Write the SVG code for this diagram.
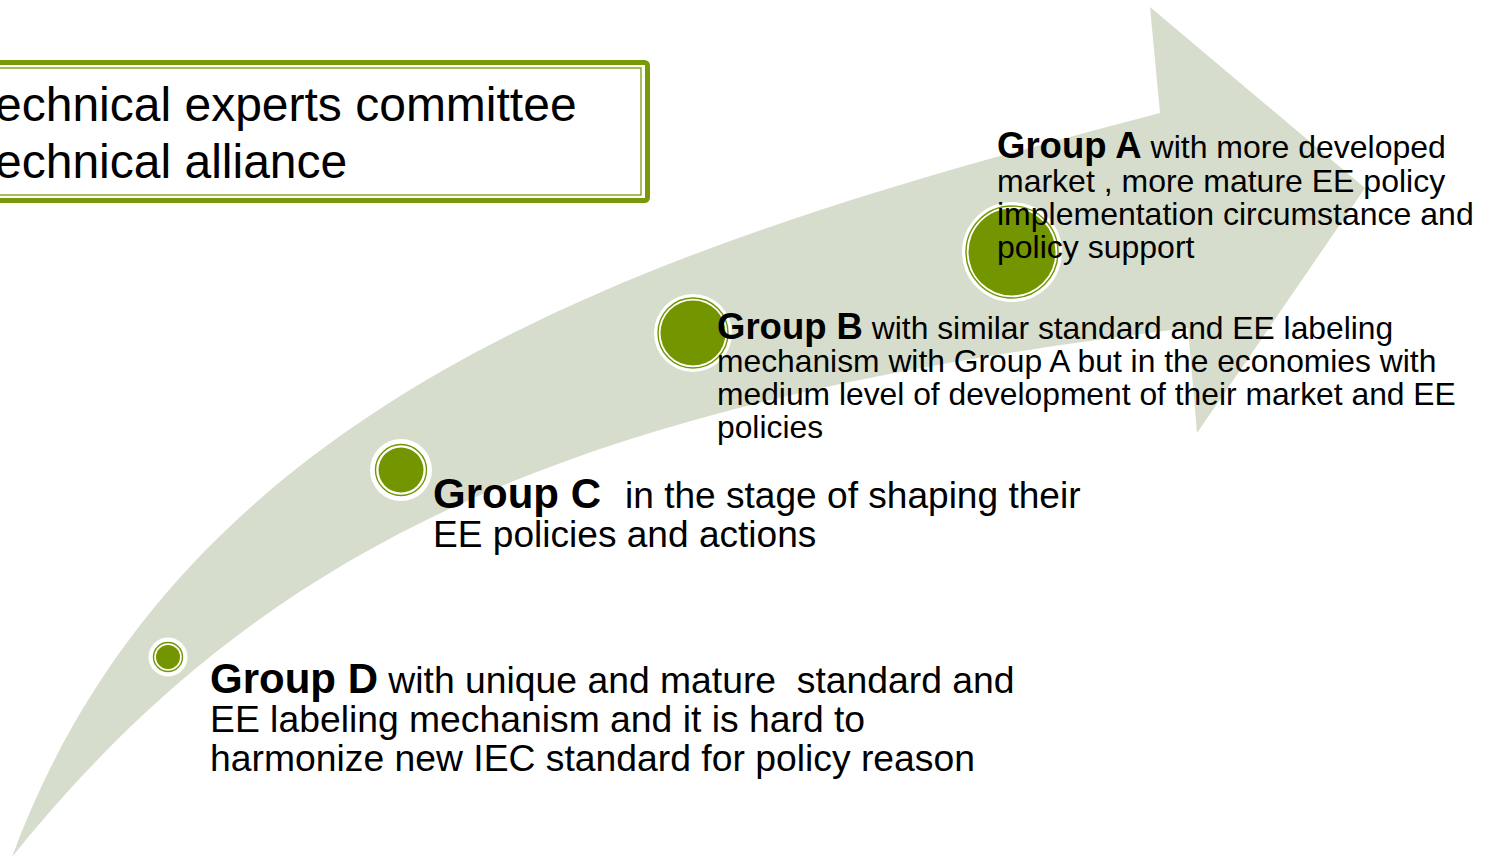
<svg xmlns="http://www.w3.org/2000/svg" width="1490" height="857" viewBox="0 0 1490 857">
  <style>
    .reg { font-family: "Liberation Sans", Arial, sans-serif; fill: #000; }
    .bold { font-family: "Liberation Sans", Arial, sans-serif; font-weight: bold; fill: #000; }
    .halo { fill: #fff; }
    .ring { fill: none; stroke: #739500; stroke-width: 1.4; }
    .dot { fill: #739500; }
    .frame-outer { fill: #fff; stroke: #789a08; stroke-width: 5; }
    .frame-inner { fill: none; stroke: #789a08; stroke-width: 1.3; }
  </style>

  <rect x="0" y="0" width="1490" height="857" fill="#fff"/>

  <!-- curved progress arrow in the background -->
  <g id="progress-arrow">
    <path fill="#d7ddcc" d="M12,857 C186,385 676,240 1160,113 L1150,7 L1365,188 L1197,433 L1188,328 C592,401 275,530 12,857 Z"/>
  </g>

  <!-- heading box, running off the left edge -->
  <g id="heading">
    <rect class="frame-outer" x="-20" y="62.5" width="667.5" height="138" rx="3"/>
    <rect class="frame-inner" x="-20" y="68" width="661" height="127"/>
    <text class="reg" font-size="48" x="-29" y="121">Technical experts committee</text>
    <text class="reg" font-size="48" x="-29" y="178">Technical alliance</text>
  </g>

  <!-- connectors: none, the groups sit on the arrow -->
  <g id="connectors"></g>

  <g id="group-d">
    <circle class="halo" cx="168" cy="657" r="19.5"/>
    <circle class="ring" cx="168" cy="657" r="14.5"/>
    <circle class="dot" cx="168" cy="657" r="12"/>
    <text class="reg" font-size="37.3" x="210" y="693" xml:space="preserve"><tspan class="bold" font-size="42">Group D</tspan> with unique and mature  standard and</text>
    <text class="reg" font-size="37.3" x="210" y="732">EE labeling mechanism and it is hard to</text>
    <text class="reg" font-size="37.3" x="210" y="771">harmonize new IEC standard for policy reason</text>
  </g>

  <g id="group-c">
    <circle class="halo" cx="401" cy="470" r="31"/>
    <circle class="ring" cx="401" cy="470" r="25.5"/>
    <circle class="dot" cx="401" cy="470" r="22.5"/>
    <text class="bold" font-size="42" x="433" y="508">Group C</text>
    <text class="reg" font-size="37.1" x="625" y="508">in the stage of shaping their</text>
    <text class="reg" font-size="37.1" x="433" y="547">EE policies and actions</text>
  </g>

  <g id="group-b">
    <circle class="halo" cx="693" cy="333" r="39"/>
    <circle class="ring" cx="693" cy="333" r="35"/>
    <circle class="dot" cx="693" cy="333" r="32.5"/>
    <text class="reg" font-size="31.8" x="717" y="339"><tspan class="bold" font-size="36.5">Group B</tspan> with similar standard and EE labeling</text>
    <text class="reg" font-size="31.8" x="717" y="372">mechanism with Group A but in the economies with</text>
    <text class="reg" font-size="31.8" x="717" y="405">medium level of development of their market and EE</text>
    <text class="reg" font-size="31.8" x="717" y="438">policies</text>
  </g>

  <g id="group-a">
    <circle class="halo" cx="1012" cy="252" r="50"/>
    <circle class="ring" cx="1012" cy="252" r="46"/>
    <circle class="dot" cx="1012" cy="252" r="43.5"/>
    <text class="reg" font-size="32" x="997" y="158"><tspan class="bold" font-size="36.5">Group A</tspan> with more developed</text>
    <text class="reg" font-size="32" x="997" y="192">market , more mature EE policy</text>
    <text class="reg" font-size="32" x="997" y="225">implementation circumstance and</text>
    <text class="reg" font-size="32" x="997" y="258">policy support</text>
  </g>
</svg>
